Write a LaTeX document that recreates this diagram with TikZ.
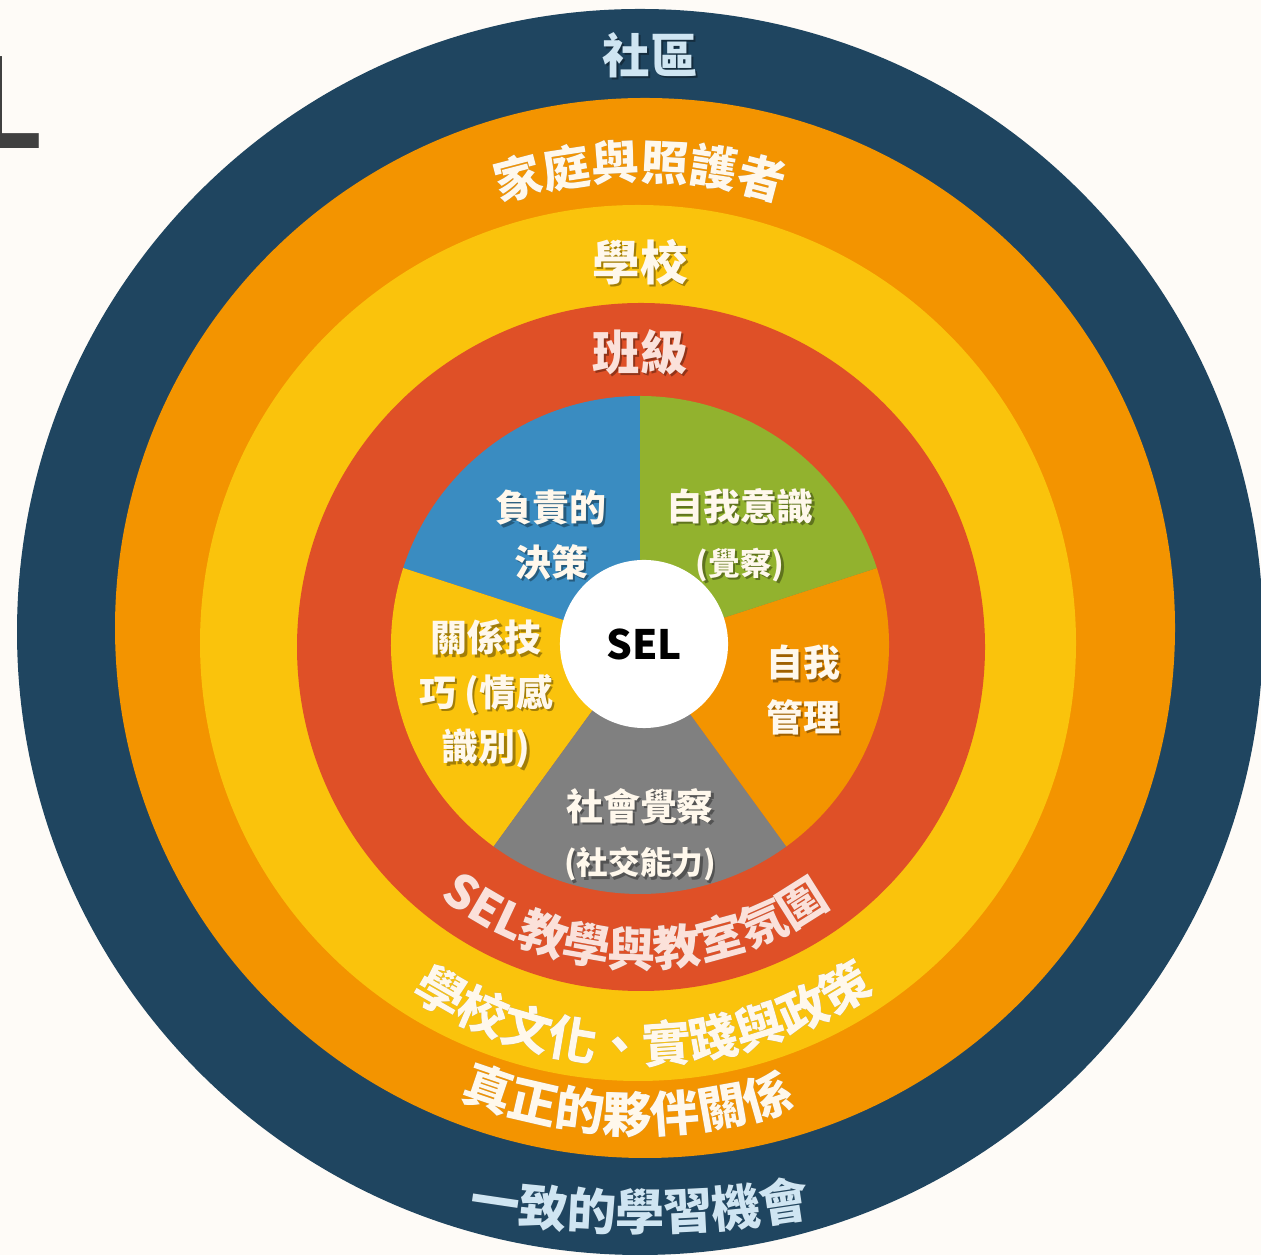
\documentclass[tikz,border=0pt]{standalone}
\usepackage{fontspec}
\usepackage{xcolor}
\usepackage{tikz}
\usetikzlibrary{decorations.text}
\setmainfont{Liberation Sans}
\newfontfamily\cjk{Noto Sans CJK TC}
\definecolor{selbg}{RGB}{254,251,247}
\definecolor{selnavy}{RGB}{31,69,96}
\definecolor{selorange}{RGB}{243,148,0}
\definecolor{selyellow}{RGB}{250,195,12}
\definecolor{selred}{RGB}{223,80,39}
\definecolor{selblue}{RGB}{58,140,193}
\definecolor{selgreen}{RGB}{146,178,46}
\definecolor{selgray}{RGB}{128,128,128}
\definecolor{selcream}{RGB}{255,248,236}
\definecolor{selpink}{RGB}{251,225,218}
\definecolor{selsky}{RGB}{207,229,242}
\definecolor{selink}{RGB}{64,64,64}

% label with a soft drop shadow: style, name, position, text
\newcommand{\shadelabel}[4]{%
  \node[#1, text=black, text opacity=0.35, xshift=0.7pt, yshift=-0.7pt] at (#3) {#4};
  \node[#1] (#2) at (#3) {#4};}
% text along a circle: colour, centre, start, end, radius, size, text
\newcommand{\arclabel}[7]{%
  \begin{scope}[opacity=0.35, shift={(0.7pt,-0.7pt)}]
  \path[decorate, decoration={text along path, text align=center, text color=black,
    text={|\cjk\bfseries\fontsize{#6}{16}\selectfont|#7}}]
    ([shift={(#3:#5)}]#2) arc[start angle=#3, end angle=#4, radius=#5];
  \end{scope}
  \path[decorate, decoration={text along path, text align=center, text color=#1,
    text={|\cjk\bfseries\fontsize{#6}{16}\selectfont|#7}}]
    ([shift={(#3:#5)}]#2) arc[start angle=#3, end angle=#4, radius=#5];}

\begin{document}
\begin{tikzpicture}[x=0.01cm, y=0.01cm,
  ringlabel/.style={font=\cjk\bfseries\fontsize{13.5}{16}\selectfont, text=selcream, inner sep=0},
  petal/.style={font=\cjk\bfseries\fontsize{10.5}{15.5}\selectfont, text=selcream, align=center, inner sep=0}]
\useasboundingbox (0,0) rectangle (1261,1255);
\fill[selbg] (0,0) rectangle (1261,1255);

% cut-off letter at the left edge
\node[anchor=base east, inner sep=0, text=selink, font=\bfseries\fontsize{38}{40}\selectfont] (cutL) at (42.6,1106) {\scalebox{0.745}[1]{L}};

% rings, outside in
\fill[selnavy] (640,623) circle[radius=623];
\fill[selorange] (645,627) circle[radius=530];
\fill[selyellow] (638,612) circle[radius=438];
\fill[selred] (641,608) circle[radius=344];

% the five competencies
\coordinate (c) at (640,610);
\coordinate (low) at (640,1024);
\foreach \a/\col in {90/selblue, 162/selyellow, 234/selgray, 306/selorange, 18/selgreen}
  \fill[\col] (c) -- ++(\a:249) arc[start angle=\a, end angle=\a+72, radius=249] -- cycle;

\node[circle, fill=white, minimum size=1.68cm, inner sep=0, font=\cjk\bfseries\fontsize{11.5}{14}\selectfont] (sel) at (644,611) {SEL};

\shadelabel{petal}{decide}{551,720}{負責的\\決策}
\shadelabel{petal}{selfaware}{740,720}{自我意識\\{\fontsize{9}{12}\selectfont(覺察)}}
\shadelabel{petal}{selfmgmt}{803,565}{自我\\管理}
\shadelabel{petal}{social}{640,420}{社會覺察\\{\fontsize{9}{12}\selectfont(社交能力)}}
\shadelabel{petal}{relate}{486,561}{關係技\\巧 (情感\\識別)}

% ring titles
\shadelabel{ringlabel, text=selsky}{community}{650,1200}{社區}
\shadelabel{ringlabel}{school}{640,993}{學校}
\shadelabel{ringlabel, text=selpink}{classroom}{640,903}{班級}
\arclabel{selcream}{c}{120}{60}{465}{13.5}{家庭與照護者}

% ring subtitles along the bottom
\arclabel{selpink}{c}{224}{314}{322}{13.5}{SEL教學與教室氛圍}
\arclabel{selcream}{c}{225}{316}{418}{14}{學校文化、實踐與政策}
\arclabel{selcream}{c}{238}{299}{488}{14}{真正的夥伴關係}
\arclabel{selsky}{low}{258}{282}{1000}{14}{一致的學習機會}
\end{tikzpicture}
\end{document}
